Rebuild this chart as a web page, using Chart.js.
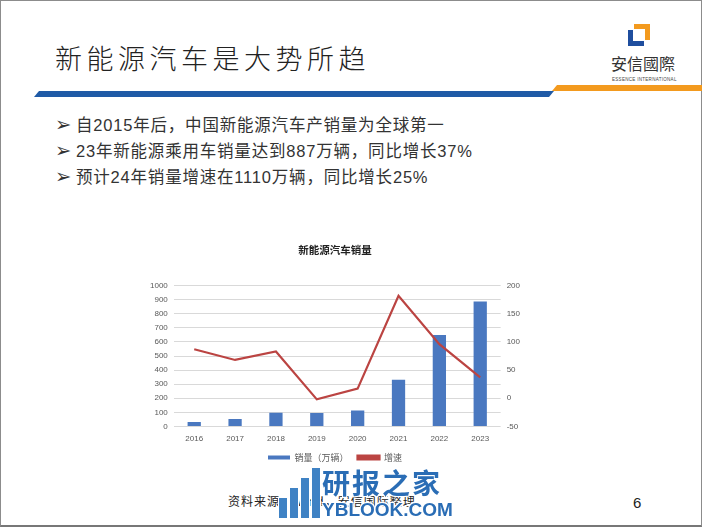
<!DOCTYPE html>
<html>
<head>
<meta charset="utf-8">
<script src="https://cdn.jsdelivr.net/npm/chart.js@4/dist/chart.umd.min.js"></script>
<style>
  html, body { margin: 0; padding: 0; }
  body { width: 702px; height: 527px; position: relative; overflow: hidden; background: #fff;
         font-family: "Liberation Sans", "Noto Sans CJK SC", sans-serif; }
  .frame { position: absolute; left: 0; top: 0; width: 700px; height: 524px; border: 1px solid #8c8c8c; border-bottom: 2px solid #777; }
  .title { position: absolute; left: 55px; top: 38px; font-family: "Noto Sans CJK SC"; font-weight: 300;
           font-size: 27px; letter-spacing: 4.5px; color: #222; }
  .band-blue { position: absolute; left: 34px; top: 91px; width: 520px; height: 6px; background: #1f5aa6;
               clip-path: polygon(5px 0, 100% 0, calc(100% - 5px) 100%, 0 100%); }
  .band-orange { position: absolute; left: 552px; top: 85px; width: 152px; height: 6px; background: #f39a1e;
                 clip-path: polygon(5px 0, 100% 0, 100% 100%, 0 100%); }
  .logo-o { position: absolute; left: 634px; top: 24px; width: 16px; height: 16px; background: #f39a1e; }
  .logo-b { position: absolute; left: 628px; top: 30px; width: 16px; height: 16px; background: #1f4e9e; }
  .logo-w { position: absolute; left: 633px; top: 29px; width: 12px; height: 12px; background: #fff; }
  .logo-t { position: absolute; left: 611px; top: 51px; font-family: "Noto Sans CJK TC"; font-size: 16px; color: #333; }
  .logo-s { position: absolute; left: 612px; top: 77px; font-size: 4.5px; color: #444; letter-spacing: 0.3px; }
  .bullets { position: absolute; left: 55px; top: 112px; font-size: 16.5px; color: #333; }
  .bullets div { height: 26px; line-height: 26px; white-space: nowrap; }
  .bullets span.m { font-family: "DejaVu Sans"; font-size: 19.5px; display: inline-block; width: 21px; color: #333;
                    line-height: 26px; vertical-align: top; }
  .cjk { letter-spacing: 0.8px; }
  #wrap { position: absolute; left: 140px; top: 240px; width: 390px; height: 232px; }
  .source { position: absolute; left: 228px; top: 492px; font-family: "Noto Sans CJK SC"; font-size: 12px; color: #222; letter-spacing: 1px; }
  .page { position: absolute; left: 633px; top: 494px; font-size: 15px; color: #222; }
  .wm1 { position: absolute; left: 322px; top: 462px; font-family: "Noto Sans CJK SC"; font-weight: 700; font-size: 28px; color: #2a6db5; letter-spacing: 2px;
         text-shadow: 1px 1px 0 #fff, -1px -1px 0 #fff, 1px -1px 0 #fff, -1px 1px 0 #fff; }
  .wm2 { position: absolute; left: 322px; top: 499px; font-family: "Liberation Sans"; font-weight: 700; font-size: 19px; color: #2a6db5;
         text-shadow: 1px 1px 0 #fff, -1px -1px 0 #fff, 1px -1px 0 #fff, -1px 1px 0 #fff; }
  .wb { position: absolute; background: #3f82c4; border-left: 1px solid #fff; border-right: 1px solid #fff; }
</style>
</head>
<body>
<div class="frame"></div>
<div class="title">新能源汽车是大势所趋</div>
<div class="band-blue"></div>
<div class="band-orange"></div>
<div class="logo-o"></div>
<div class="logo-b"></div>
<div class="logo-w"></div>
<div class="logo-t">安信國際</div>
<div class="logo-s">ESSENCE INTERNATIONAL</div>

<div class="bullets">
  <div><span class="m">➢</span><span class="cjk">自2015年后，中国新能源汽车产销量为全球第一</span></div>
  <div><span class="m">➢</span><span class="cjk">23年新能源乘用车销量达到887万辆，同比增长37%</span></div>
  <div><span class="m">➢</span><span class="cjk">预计24年销量增速在1110万辆，同比增长25%</span></div>
</div>

<div id="wrap"><canvas id="chart"></canvas></div>

<div class="source">资料来源：wind，安信国际整理</div>
<div class="wb" style="left:278px;top:498px;width:8px;height:20px;"></div>
<div class="wb" style="left:289px;top:488px;width:8px;height:30px;"></div>
<div class="wb" style="left:300px;top:478px;width:8px;height:40px;"></div>
<div class="wb" style="left:311px;top:468px;width:8px;height:50px;"></div>
<div class="wm1">研报之家</div>
<div class="wm2">YBLOOK.COM</div>
<div class="page">6</div>

<script>
// 数据
const years = ["2016", "2017", "2018", "2019", "2020", "2021", "2022", "2023"];
const sales = [31, 52, 97, 96, 113, 331, 650, 887];   // 销量（万辆）
const growth = [87, 68, 83, -2, 17, 182, 96, 37];     // 增速 %
const leftTicks = [0, 1000, 100];
const rightTicks = [-50, 200, 50];

const tickFont = { family: "Liberation Sans", size: 8 };

new Chart(document.getElementById("chart"), {
  type: "bar",
  data: {
    labels: years,
    datasets: [{
      label: "销量（万辆）",
      data: sales,
      backgroundColor: "#4a78c0",
      barPercentage: 0.65,
      categoryPercentage: 0.5,
      yAxisID: "y",
      order: 2
    }, {
      type: "line",
      label: "增速",
      data: growth,
      borderColor: "#bb4442",
      backgroundColor: "#bb4442",
      borderWidth: 2.2,
      pointRadius: 0,
      tension: 0,
      yAxisID: "y1",
      order: 1
    }]
  },
  options: {
    responsive: true,
    maintainAspectRatio: false,
    animation: false,
    layout: { padding: { left: 4, right: 4, top: 0, bottom: 0 } },
    plugins: {
      title: {
        display: true,
        text: "新能源汽车销量",
        color: "#222",
        font: { family: "Noto Sans CJK SC", size: 10.5, weight: "bold" },
        padding: { top: 4, bottom: 29 }
      },
      legend: {
        position: "bottom",
        labels: {
          color: "#595959",
          font: { family: "Noto Sans CJK SC", size: 9 },
          boxWidth: 22,
          boxHeight: 4,
          padding: 9,
          sort: (a, b) => a.datasetIndex - b.datasetIndex
        }
      },
      tooltip: { enabled: false }
    },
    scales: {
      x: {
        grid: { display: false },
        border: { display: false },
        ticks: { color: "#595959", font: tickFont, padding: 0 }
      },
      y: {
        position: "left",
        min: leftTicks[0], max: leftTicks[1],
        ticks: { stepSize: leftTicks[2], color: "#595959", font: tickFont, padding: 6, callback: v => String(v) },
        grid: { color: "#d9d9d9", drawTicks: false },
        border: { display: false }
      },
      y1: {
        position: "right",
        min: rightTicks[0], max: rightTicks[1],
        ticks: { stepSize: rightTicks[2], color: "#595959", font: tickFont, padding: 6, callback: v => String(v) },
        grid: { display: false, drawTicks: false },
        border: { display: false }
      }
    }
  }
});
</script>
</body>
</html>
